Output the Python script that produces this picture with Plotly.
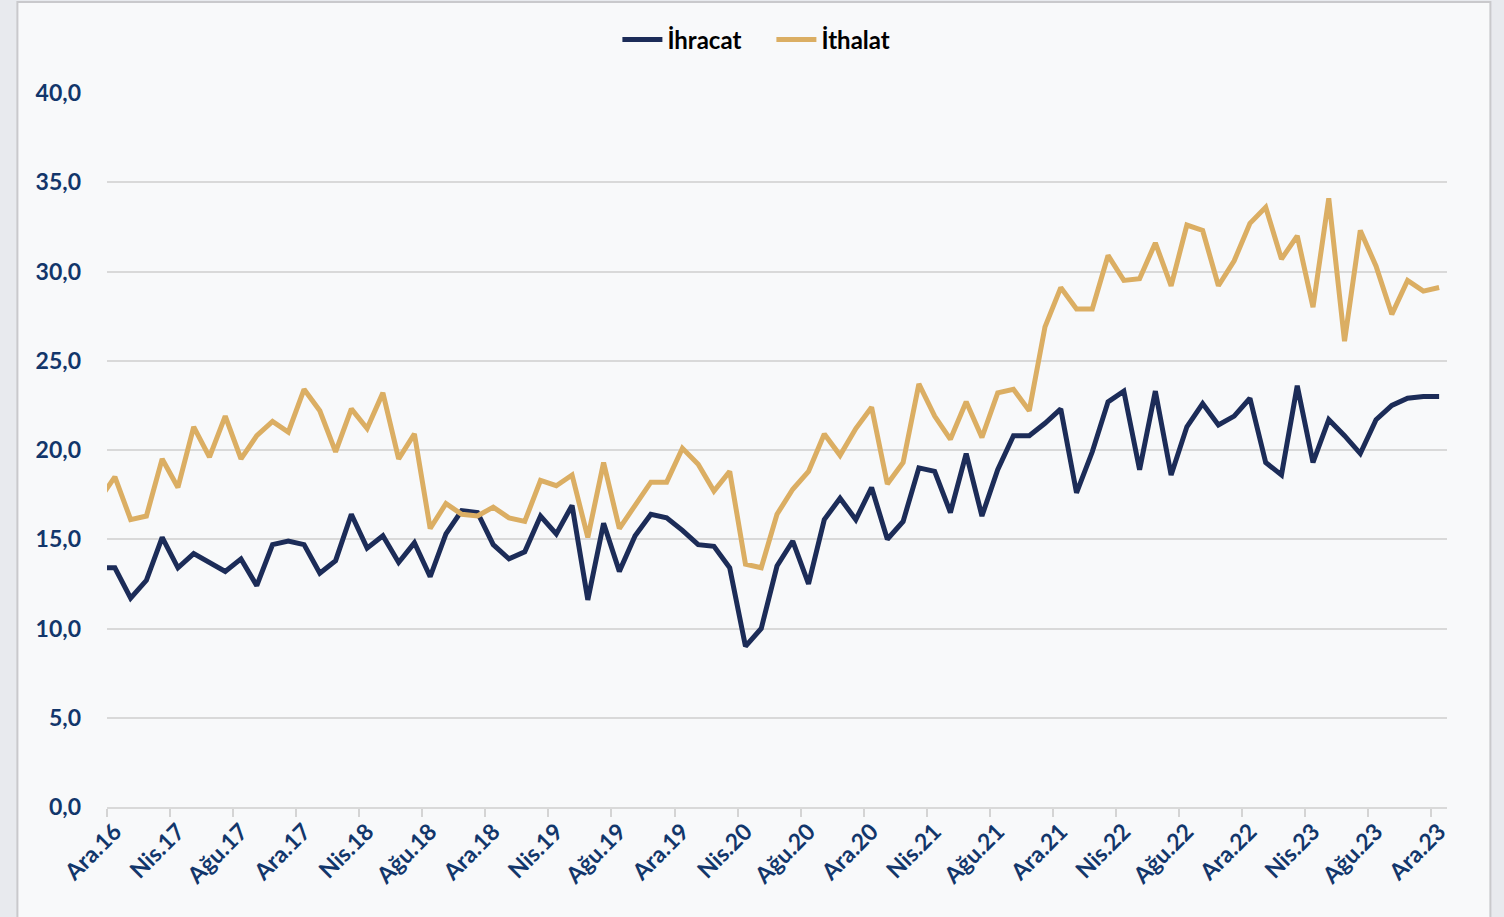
import plotly.graph_objects as go

# Month labels (Kas.16 is a lead-in month, clipped at the left edge as in the reference)
month_abbr = ["Oca", "Şub", "Mar", "Nis", "May", "Haz", "Tem", "Ağu", "Eyl", "Eki", "Kas", "Ara"]
start_year, start_month = 2016, 11  # Kas.16
n_points = 86

months = []
y_, m_ = start_year, start_month
for _ in range(n_points):
    months.append(f"{month_abbr[m_ - 1]}.{str(y_)[2:]}")
    m_ += 1
    if m_ > 12:
        m_ = 1
        y_ += 1

ihracat = [13.4,
           13.4, 11.7, 12.7, 15.1, 13.4, 14.2, 13.7, 13.2, 13.9, 12.4, 14.7, 14.9,
           14.7, 13.1, 13.8, 16.4, 14.5, 15.2, 13.7, 14.8, 12.9, 15.3, 16.6, 16.5,
           14.7, 13.9, 14.3, 16.3, 15.3, 16.9, 11.6, 15.9, 13.2, 15.2, 16.4, 16.2,
           15.5, 14.7, 14.6, 13.4, 9.0, 10.0, 13.5, 14.9, 12.5, 16.1, 17.3, 16.1,
           17.9, 15.0, 16.0, 19.0, 18.8, 16.5, 19.8, 16.3, 18.9, 20.8, 20.8, 21.5,
           22.3, 17.6, 19.9, 22.7, 23.3, 18.9, 23.3, 18.6, 21.3, 22.6, 21.4, 21.9,
           22.9, 19.3, 18.6, 23.6, 19.3, 21.7, 20.8, 19.8, 21.7, 22.5, 22.9, 23.0,
           23.0]

ithalat = [17.2,
           18.5, 16.1, 16.3, 19.5, 17.9, 21.3, 19.6, 21.9, 19.5, 20.8, 21.6, 21.0,
           23.4, 22.2, 19.9, 22.3, 21.2, 23.2, 19.5, 20.9, 15.6, 17.0, 16.4, 16.3,
           16.8, 16.2, 16.0, 18.3, 18.0, 18.6, 15.1, 19.3, 15.6, 16.9, 18.2, 18.2,
           20.1, 19.2, 17.7, 18.8, 13.6, 13.4, 16.4, 17.8, 18.8, 20.9, 19.7, 21.2,
           22.4, 18.1, 19.3, 23.7, 21.9, 20.6, 22.7, 20.7, 23.2, 23.4, 22.2, 26.9,
           29.1, 27.9, 27.9, 30.9, 29.5, 29.6, 31.6, 29.2, 32.6, 32.3, 29.2, 30.6,
           32.7, 33.6, 30.7, 32.0, 28.0, 34.1, 26.1, 32.3, 30.3, 27.6, 29.5, 28.9,
           29.1]

series_names = ["İhracat", "İthalat"]
series_colors = ["#1c2c58", "#dbae63"]

FONT = "Lato"
TICK_COLOR = "#12366b"

fig = go.Figure()
for name, vals, col in zip(series_names, [ihracat, ithalat], series_colors):
    fig.add_trace(go.Scatter(
        x=months, y=vals, mode="lines", name=name,
        line=dict(color=col, width=5, shape="linear"),
        hoverinfo="x+y+name",
    ))

# plot area geometry (px)
L, R, T, B = 106.6, 1446.6, 93, 807
W, H = R - L, B - T

def px_x(px):
    return (px - L) / W

def px_y(py):
    return (B - py) / H

fig.update_layout(
    width=1504, height=917,
    margin=dict(l=L, r=1504 - R, t=T, b=917 - B),
    paper_bgcolor="#e8eaee",
    plot_bgcolor="rgba(0,0,0,0)",
    separators=",.",
    font=dict(family=FONT, size=23, color=TICK_COLOR),
    showlegend=True,
    legend=dict(
        orientation="h", x=px_x(771), xanchor="center",
        y=px_y(40), yanchor="middle",
        font=dict(family=FONT, size=24, color="#000000", weight="bold"),
        bgcolor="rgba(0,0,0,0)", itemwidth=40, tracegroupgap=0,
        entrywidth=99, entrywidthmode="pixels",
    ),
    shapes=[dict(
        type="rect", xref="paper", yref="paper", layer="below",
        x0=px_x(17), x1=px_x(1490), y0=px_y(930), y1=px_y(2),
        line=dict(color="#c9c9cc", width=2), fillcolor="#f8f9fa",
    )],
)

fig.update_xaxes(
    type="category",
    range=[0.5, n_points - 0.5],
    tickmode="linear", tick0=1, dtick=4,
    tickson="boundaries",
    ticks="outside", ticklen=8, tickwidth=2, tickcolor="#d4d4d4",
    showgrid=False, zeroline=False,
    showline=True, linecolor="#d9d9d9", linewidth=2,
    tickangle=-45,
    tickfont=dict(family=FONT, size=23, color=TICK_COLOR, weight="bold"),
)

fig.update_yaxes(
    range=[0, 40], dtick=5, tick0=0, tickformat=".1f",
    showgrid=True, gridcolor="#d9d9d9", gridwidth=2,
    zeroline=False, showline=False, ticks="",
    ticklabelstandoff=25,
    tickfont=dict(family=FONT, size=23, color=TICK_COLOR, weight="bold"),
)

fig.write_html("out.html", config={"displayModeBar": False},
               post_script="document.body.style.margin='0';")
